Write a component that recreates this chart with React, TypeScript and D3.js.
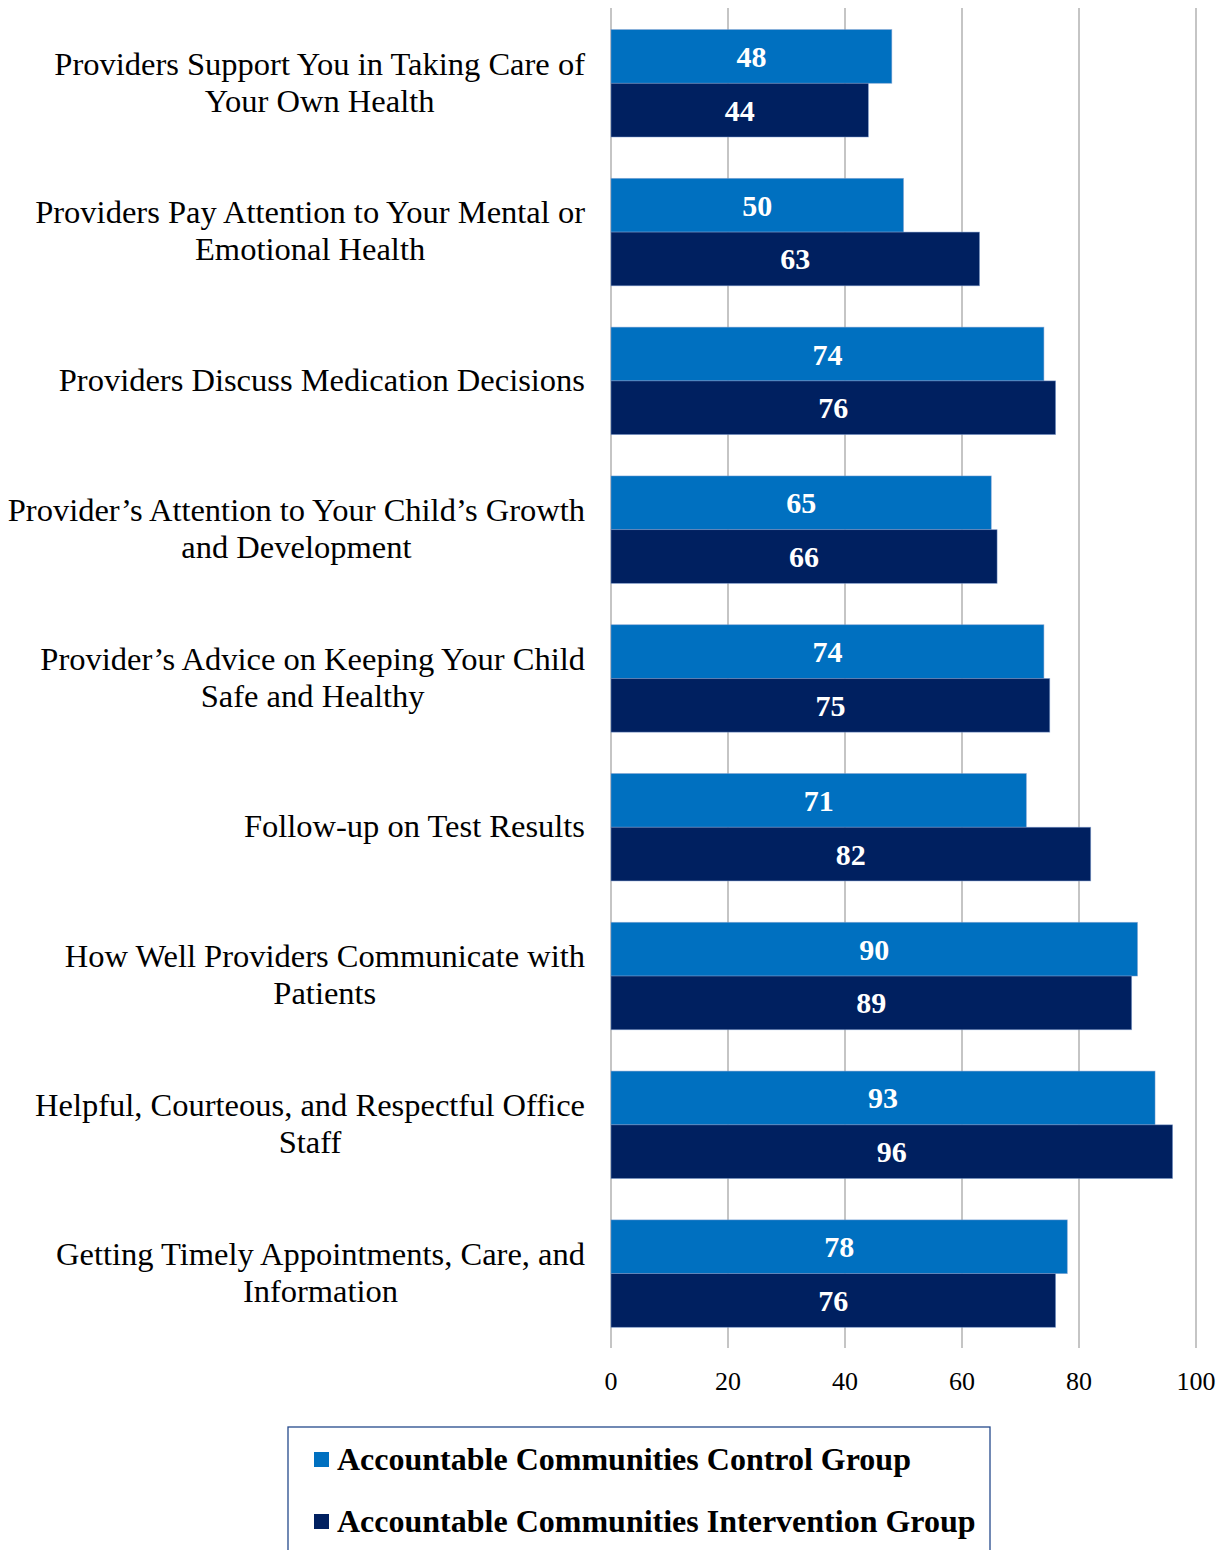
import React, { useEffect, useRef } from "react";
import * as d3 from "d3";

const categories: string[][] = [
  ["Providers Support You in Taking Care of", "Your Own Health"],
  ["Providers Pay Attention to Your Mental or", "Emotional Health"],
  ["Providers Discuss Medication Decisions"],
  ["Provider\u2019s Attention to Your Child\u2019s Growth", "and Development"],
  ["Provider\u2019s Advice on Keeping Your Child", "Safe and Healthy"],
  ["Follow-up on Test Results"],
  ["How Well Providers Communicate with", "Patients"],
  ["Helpful, Courteous, and Respectful Office", "Staff"],
  ["Getting Timely Appointments, Care, and", "Information"],
];
const controlValues = [48, 50, 74, 65, 74, 71, 90, 93, 78];
const interventionValues = [44, 63, 76, 66, 75, 82, 89, 96, 76];
const seriesNames = [
  "Accountable Communities Control Group",
  "Accountable Communities Intervention Group",
];
const seriesColors = ["#0070C0", "#002060"];
const xTicks = [0, 20, 40, 60, 80, 100];

const W = 1225;
const H = 1550;
const FONT = "'Liberation Serif', 'Times New Roman', serif";

export default function App() {
  const labelRef = useRef<SVGGElement>(null);

  const x = d3.scaleLinear().domain([0, 100]).range([611, 1196]);
  const idx = categories.map((_, i) => String(i));
  const y = d3
    .scaleBand<string>()
    .domain(idx)
    .range([8.9, 1348])
    .paddingInner(0.278)
    .paddingOuter(0.139);
  const sub = d3
    .scaleBand<string>()
    .domain(["0", "1"])
    .range([0, y.bandwidth()]);
  const series = [controlValues, interventionValues];

  useEffect(() => {
    const g = d3.select(labelRef.current);
    g.selectAll<SVGGElement, unknown>("g.cat").each(function () {
      const grp = d3.select(this);
      let maxW = 0;
      grp.selectAll<SVGTextElement, unknown>("text").each(function () {
        maxW = Math.max(maxW, this.getComputedTextLength());
      });
      const cx = 585 - maxW / 2;
      grp.selectAll("text").attr("x", cx);
    });
  }, []);

  return (
    <svg
      width={W}
      height={H}
      style={{ position: "absolute", left: 0, top: 0, background: "#fff" }}
      fontFamily={FONT}
    >
      <rect width={W} height={H} fill="#fff" />
      {xTicks.map((t) => (
        <line
          key={t}
          x1={x(t)}
          x2={x(t)}
          y1={8}
          y2={1348}
          stroke="#a6a6a6"
          strokeWidth={1.3}
        />
      ))}
      {categories.map((_, i) =>
        series.map((vals, s) => {
          const y0 = (y(String(i)) as number) + (sub(String(s)) as number);
          const h = sub.bandwidth();
          return (
            <g key={`${i}-${s}`}>
              <rect
                x={x(0)}
                y={y0}
                width={x(vals[i]) - x(0)}
                height={h}
                fill={seriesColors[s]}
                stroke="#7f9fd0"
                strokeWidth={0.8}
                strokeOpacity={0.6}
              />
              <text
                x={(x(0) + x(vals[i])) / 2}
                y={y0 + h / 2}
                dy="0.35em"
                textAnchor="middle"
                fill="#fff"
                fontWeight="bold"
                fontSize={30}
              >
                {vals[i]}
              </text>
            </g>
          );
        })
      )}
      <g ref={labelRef}>
        {categories.map((lines, i) => {
          const cy = (y(String(i)) as number) + y.bandwidth() / 2;
          const lh = 37;
          const start = cy - ((lines.length - 1) * lh) / 2;
          return (
            <g className="cat" key={i}>
              {lines.map((ln, j) => (
                <text
                  key={j}
                  x={585}
                  y={start + j * lh - 1.5}
                  dy="0.35em"
                  textAnchor="middle"
                  fontSize={32.5}
                  fill="#000"
                >
                  {ln}
                </text>
              ))}
            </g>
          );
        })}
      </g>
      {xTicks.map((t) => (
        <text
          key={t}
          x={x(t)}
          y={1381}
          dy="0.35em"
          textAnchor="middle"
          fontSize={26}
          fill="#000"
        >
          {t}
        </text>
      ))}
      <rect
        x={288}
        y={1427}
        width={702}
        height={140}
        fill="#fff"
        stroke="#254a8c"
        strokeWidth={1.3}
      />
      {seriesNames.map((n, s) => (
        <g key={n}>
          <rect
            x={314}
            y={1452 + s * 62}
            width={15}
            height={15}
            fill={seriesColors[s]}
          />
          <text
            x={337}
            y={1459 + s * 62}
            dy="0.35em"
            fontSize={32}
            fontWeight="bold"
            fill="#000"
          >
            {n}
          </text>
        </g>
      ))}
    </svg>
  );
}
